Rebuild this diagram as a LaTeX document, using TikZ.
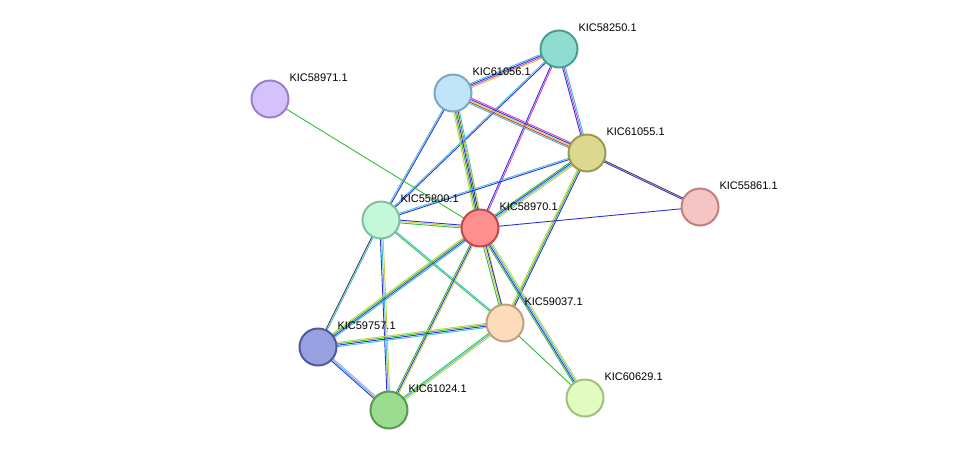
\documentclass[tikz,border=0pt]{standalone}
\usepackage{fontspec}
\setmainfont{Liberation Sans}
\usetikzlibrary{calc}
\definecolor{cy}{HTML}{40C0D8}\definecolor{bl}{HTML}{3030E0}\definecolor{gr}{HTML}{30C030}
\definecolor{ye}{HTML}{C8D040}\definecolor{mg}{HTML}{D040D0}\definecolor{bk}{HTML}{404040}
\definecolor{rd}{HTML}{E03030}\definecolor{lv}{HTML}{B0A0F0}
\newcommand\edg[4]{\foreach \c [count=\i] in {#4}{\pgfmathsetmacro\off{(\i-(#3+1)/2)*1.4}\draw[\c,line width=0.9pt] ($(#1)!\off pt!90:(#2)$) -- ($(#2)!\off pt!-90:(#1)$);}}
\tikzset{nd/.style={circle,minimum size=37pt,line width=2pt,inner sep=0},
lb/.style={anchor=west,font=\fontsize{11}{13}\selectfont}}
\begin{document}
\begin{tikzpicture}[x=1pt,y=-1pt]
\useasboundingbox (0,0) rectangle (975,456);
\coordinate (a) at (559,49);\coordinate (b) at (270,99);\coordinate (c) at (453,93);
\coordinate (d) at (587,153);\coordinate (e) at (700,207);\coordinate (f) at (381,220);
\coordinate (g) at (480,228);\coordinate (h) at (505,323);\coordinate (i) at (318,347);
\coordinate (j) at (389,410);\coordinate (k) at (585,398);
\edg{a}{c}{4}{cy,bl,mg,ye}
\edg{a}{d}{3}{bl,mg,cy}
\edg{a}{f}{2}{cy,bl}
\edg{a}{g}{2}{bl,mg}
\edg{c}{d}{5}{cy,rd,ye,bl,mg}
\edg{c}{f}{2}{cy,bl}
\edg{c}{g}{5}{ye,gr,bl,bk,cy}
\edg{c}{h}{1}{ye}
\edg{d}{f}{2}{cy,bl}
\edg{d}{g}{4}{gr,bl,cy,ye}
\edg{d}{e}{2}{bl,bk}
\edg{d}{h}{3}{ye,gr,bl}
\edg{b}{g}{1}{gr}
\edg{g}{e}{1}{bl}
\edg{f}{g}{3}{gr,ye,bl}
\edg{f}{h}{2}{gr,cy}
\edg{f}{i}{2}{bk,cy}
\edg{f}{j}{3}{bl,cy,ye}
\edg{g}{i}{4}{ye,gr,bl,cy}
\edg{g}{j}{3}{gr,bl,ye}
\edg{g}{h}{3}{gr,ye,bl}
\edg{g}{k}{4}{gr,bl,cy,ye}
\edg{h}{i}{4}{ye,gr,bl,cy}
\edg{h}{j}{3}{gr,cy,ye}
\edg{h}{k}{1}{gr}
\edg{i}{j}{3}{bl,cy,lv}
\node[nd,fill={rgb,255:red,143;green,220;blue,208},draw={rgb,255:red,74;green,158;blue,148}] (A) at (a) {};
\node[nd,fill={rgb,255:red,213;green,194;blue,250},draw={rgb,255:red,154;green,128;blue,200}] (B) at (b) {};
\node[nd,fill={rgb,255:red,194;green,228;blue,248},draw={rgb,255:red,122;green,168;blue,200}] (C) at (c) {};
\node[nd,fill={rgb,255:red,220;green,216;blue,144},draw={rgb,255:red,154;green,154;blue,80}] (D) at (d) {};
\node[nd,fill={rgb,255:red,245;green,197;blue,197},draw={rgb,255:red,192;green,128;blue,128}] (E) at (e) {};
\node[nd,fill={rgb,255:red,197;green,248;blue,216},draw={rgb,255:red,128;green,192;blue,160}] (F) at (f) {};
\node[nd,fill={rgb,255:red,255;green,143;blue,143},draw={rgb,255:red,192;green,72;blue,72}] (G) at (g) {};
\node[nd,fill={rgb,255:red,253;green,220;blue,188},draw={rgb,255:red,192;green,160;blue,128}] (H) at (h) {};
\node[nd,fill={rgb,255:red,152;green,160;blue,224},draw={rgb,255:red,80;green,88;blue,160}] (I) at (i) {};
\node[nd,fill={rgb,255:red,156;green,220;blue,144},draw={rgb,255:red,90;green,154;blue,80}] (J) at (j) {};
\node[nd,fill={rgb,255:red,226;green,252;blue,192},draw={rgb,255:red,160;green,192;blue,128}] (K) at (k) {};
\node[lb] (LA) at ($(a)+(16,-21)$) {KIC58250.1};
\node[lb] (LB) at ($(b)+(16,-21)$) {KIC58971.1};
\node[lb] (LC) at ($(c)+(16,-21)$) {KIC61056.1};
\node[lb] (LD) at ($(d)+(16,-21)$) {KIC61055.1};
\node[lb] (LE) at ($(e)+(16,-21)$) {KIC55861.1};
\node[lb] (LF) at ($(f)+(16,-21)$) {KIC55800.1};
\node[lb] (LG) at ($(g)+(16,-21)$) {KIC58970.1};
\node[lb] (LH) at ($(h)+(16,-21)$) {KIC59037.1};
\node[lb] (LI) at ($(i)+(16,-21)$) {KIC59757.1};
\node[lb] (LJ) at ($(j)+(16,-21)$) {KIC61024.1};
\node[lb] (LK) at ($(k)+(16,-21)$) {KIC60629.1};
\end{tikzpicture}
\end{document}
